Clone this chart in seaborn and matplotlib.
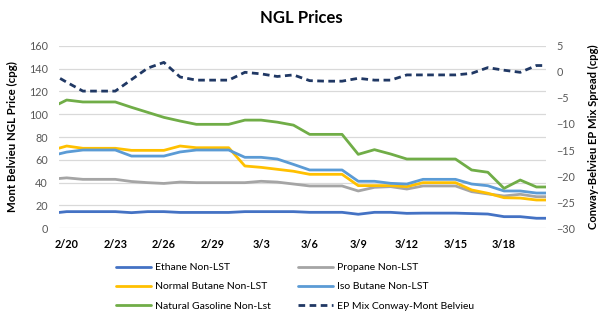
import matplotlib
matplotlib.use("Agg")
import matplotlib.pyplot as plt
import seaborn as sns
import pandas as pd

# Daily quotes, 2/19 through 3/21 (the axis window shows 2/20 to 3/20)
dates = ["2/19", "2/20", "2/21", "2/22", "2/23", "2/24", "2/25", "2/26", "2/27",
         "2/28", "2/29", "3/1", "3/2", "3/3", "3/4", "3/5", "3/6", "3/7", "3/8",
         "3/9", "3/10", "3/11", "3/12", "3/13", "3/14", "3/15", "3/16", "3/17",
         "3/18", "3/19", "3/20", "3/21"]

ethane = [13.1, 14.6, 14.6, 14.6, 14.6, 13.7, 14.6, 14.6, 13.9, 13.9, 13.9, 13.9,
          14.6, 14.6, 14.6, 14.6, 14.0, 14.0, 14.0, 12.3, 14.0, 14.0, 13.1, 13.3,
          13.3, 13.3, 12.9, 12.5, 10.2, 10.2, 8.8, 8.8]
propane = [43.0, 44.2, 42.9, 42.9, 42.9, 41.0, 40.0, 39.3, 40.5, 40.0, 40.0, 40.0,
           40.0, 41.2, 40.5, 38.8, 37.1, 37.1, 37.1, 32.7, 35.9, 36.5, 34.4, 37.1,
           37.1, 37.1, 32.1, 30.1, 28.3, 29.8, 27.7, 27.7]
normal_butane = [68.1, 72.1, 70.1, 70.1, 70.1, 68.3, 68.3, 68.3, 72.1, 70.6, 70.6,
                 70.6, 54.6, 53.4, 51.7, 50.0, 47.3, 47.3, 47.3, 37.4, 37.4, 37.4,
                 36.5, 40.0, 40.0, 40.0, 33.6, 30.7, 26.8, 26.5, 24.8, 24.8]
iso_butane = [63.4, 66.8, 68.6, 68.6, 68.6, 63.3, 63.3, 63.3, 66.9, 68.6, 68.6, 68.6,
              62.2, 62.2, 60.7, 56.0, 51.1, 51.1, 51.1, 41.2, 41.2, 39.4, 38.8, 42.9,
              42.9, 42.9, 38.8, 37.3, 32.7, 32.7, 30.9, 30.9]
natural_gasoline = [105.4, 112.4, 110.7, 110.7, 110.7, 106.0, 101.6, 97.2, 94.0, 91.1,
                    91.1, 91.1, 94.8, 94.8, 93.0, 90.4, 82.3, 82.3, 82.3, 64.8, 68.9,
                    65.1, 60.7, 60.7, 60.7, 60.7, 51.1, 49.1, 35.0, 42.3, 36.2, 36.2]
ep_mix_spread = [-0.2, -2.0, -3.7, -3.7, -3.7, -1.5, 0.7, 1.8, -1.0, -1.6, -1.6, -1.6,
                 -0.1, -0.4, -0.9, -0.6, -1.7, -1.8, -1.8, -1.25, -1.6, -1.6, -0.6,
                 -0.6, -0.6, -0.6, -0.3, 0.8, 0.3, -0.1, 1.2, 1.2]

tick_dates = ["2/20", "2/23", "2/26", "2/29", "3/3", "3/6", "3/9", "3/12", "3/15", "3/18"]

price_series = {
    "Ethane Non-LST": ethane,
    "Propane Non-LST": propane,
    "Normal Butane Non-LST": normal_butane,
    "Iso Butane Non-LST": iso_butane,
    "Natural Gasoline Non-Lst": natural_gasoline,
}
spread_name = "EP Mix Conway-Mont Belvieu"

colors = {
    "Ethane Non-LST": "#4472C4",
    "Propane Non-LST": "#A5A5A5",
    "Normal Butane Non-LST": "#FFC000",
    "Iso Butane Non-LST": "#5B9BD5",
    "Natural Gasoline Non-Lst": "#70AD47",
    spread_name: "#203864",
}

sns.set_theme(style="white")
plt.rcParams["font.family"] = ["Lato", "DejaVu Sans"]

x = list(range(len(dates)))
prices = pd.DataFrame(
    [(i, name, v) for name, vals in price_series.items() for i, v in zip(x, vals)],
    columns=["day", "series", "price"],
)
spread = pd.DataFrame({"day": x, "spread": ep_mix_spread})

fig = plt.figure(figsize=(6.03, 3.24), dpi=100)
ax = fig.add_axes([59 / 603, 1 - 228.3 / 324, 486.5 / 603, 182.6 / 324])
ax2 = ax.twinx()

lw = 2.0
sns.lineplot(data=prices, x="day", y="price", hue="series",
             hue_order=list(price_series), palette=colors, linewidth=lw,
             legend=False, ax=ax)
sns.lineplot(data=spread, x="day", y="spread", color=colors[spread_name],
             linewidth=lw, legend=False, ax=ax2)
ax2.lines[0].set_dashes((2.4, 1.6))
ax2.lines[0].set_dash_capstyle("butt")

x0 = dates.index("2/20")
ax.set_xlim(x0 - 0.475, x0 + 29.56)
ax.set_ylim(0, 160)
ax.set_yticks(range(0, 161, 20))
ax2.set_ylim(-30, 5)
ax2.set_yticks(range(-30, 6, 5))

ax.set_xticks([dates.index(d) for d in tick_dates])
ax.set_xticklabels(tick_dates, fontsize=7.8, fontweight="bold", color="#000000")

ax.grid(axis="y", color="#D9D9D9", linewidth=0.9)
ax.grid(axis="x", visible=False)
ax.set_axisbelow(True)
for a in (ax, ax2):
    for s in a.spines.values():
        s.set_visible(False)
    a.tick_params(length=0)

ax.tick_params(axis="y", labelsize=7.8, labelcolor="#595959", pad=8)
ax2.tick_params(axis="y", labelsize=7.8, labelcolor="#595959", pad=8)
ax.tick_params(axis="x", pad=8)

ax.set_xlabel("")
ax.set_ylabel("Mont Belvieu NGL Price (cpg)", fontsize=8.3, fontweight="bold",
              color="#000000")
ax.yaxis.set_label_coords(-0.084, 0.5)
ax2.set_ylabel("Conway-Belvieu EP Mix Spread (cpg)", fontsize=8.1,
               fontweight="bold", color="#000000")
ax2.yaxis.set_label_coords(1.087, 0.5)

fig.text(0.5, 1 - 18 / 324, "NGL Prices", ha="center", va="center",
         fontsize=12, fontweight="bold", color="#000000")

handles = {name: line for name, line in zip(price_series, ax.lines)}
handles[spread_name] = ax2.lines[0]
order = ["Ethane Non-LST", "Normal Butane Non-LST", "Natural Gasoline Non-Lst",
         "Propane Non-LST", "Iso Butane Non-LST", spread_name]
fig.legend([handles[n] for n in order], order, ncol=2, frameon=False,
           loc="upper left", bbox_to_anchor=(116 / 603, 1 - 263 / 324),
           borderaxespad=0, borderpad=0, fontsize=7.5, handlelength=3.4,
           handletextpad=0.35, columnspacing=2.6, labelspacing=0.95,
           labelcolor="#000000")

fig.savefig("out.png", dpi=100)
